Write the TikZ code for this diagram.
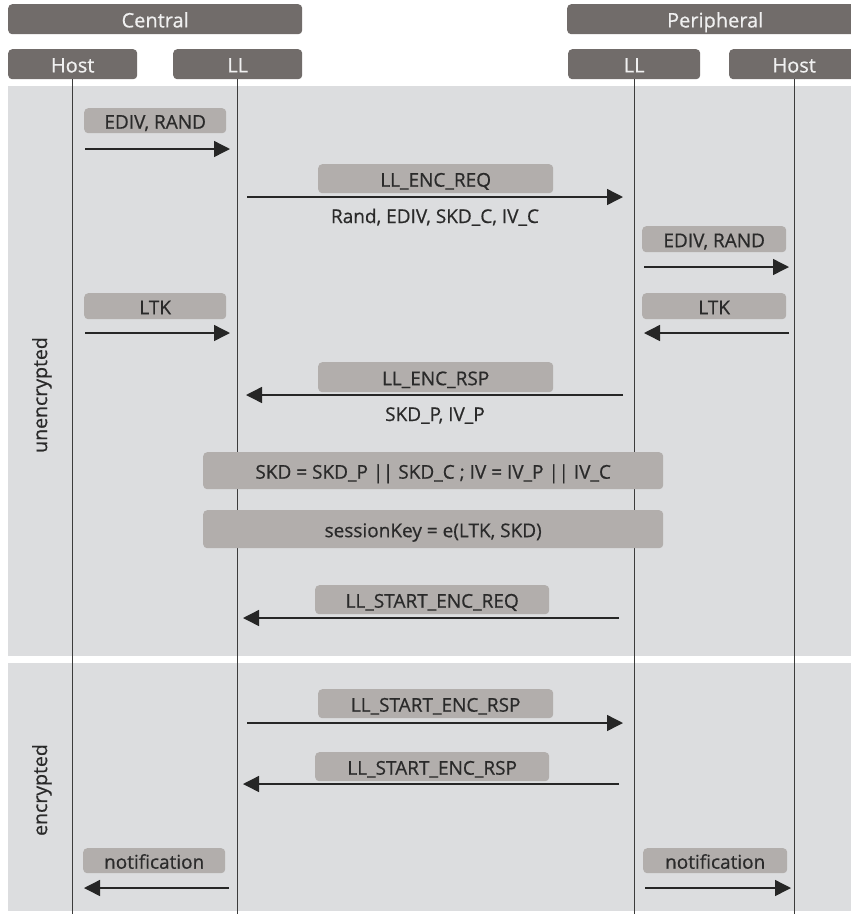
\documentclass[tikz,border=0pt]{standalone}
\usepackage{fontspec}
\setmainfont{Open Sans}
\newfontfamily\lblfont{Open Sans}[FakeBold=0.6]
\usetikzlibrary{arrows.meta}
\definecolor{hdr}{HTML}{716C6A}
\definecolor{lbl}{HTML}{B2AEAC}
\definecolor{bgc}{HTML}{DCDDDF}
\definecolor{life}{HTML}{3C3C3C}
\definecolor{txt}{HTML}{2A2A2A}
\newcommand{\dbar}{|\kern-0.5pt|}
\begin{document}
\begin{tikzpicture}[x=1pt,y=-1pt,
  hdrbox/.style={fill=hdr, rounded corners=4pt, text=white!94!black, font=\lblfont\fontsize{20}{22}\selectfont, inner sep=0pt, anchor=north west, minimum height=30pt, text height=16.4pt, text depth=0pt},
  lblbox/.style={fill=lbl, rounded corners=4pt, text=txt, font=\lblfont\fontsize{19}{21}\selectfont, inner sep=0pt, anchor=north west, text height=16pt, text depth=0pt},
  plain/.style={text=txt, font=\lblfont\fontsize{19}{21}\selectfont, inner sep=0pt, anchor=base},
  lifeline/.style={draw=life, line width=1.2pt},
  msg/.style={draw=black!85, line width=1.4pt, -{Triangle[length=16pt,width=16pt]}},
  sidelbl/.style={text=txt, font=\lblfont\fontsize{19.5}{21}\selectfont, rotate=90, inner sep=0pt}
]
\useasboundingbox (0,0) rectangle (851,914);
\fill[white] (0,0) rectangle (851,914);
% background bands
\fill[bgc] (8,86) rectangle (851,656);
\fill[bgc] (8,663) rectangle (851,911);

% headers
\node[hdrbox, minimum width=294pt] (central) at (8,4) {Central};
\node[hdrbox, minimum width=296pt] (periph) at (567,4) {Peripheral};
\node[hdrbox, minimum width=129pt] (hostC) at (8,49) {Host};
\node[hdrbox, minimum width=129pt] (llC) at (173,49) {LL};
\node[hdrbox, minimum width=132pt] (llP) at (568,49) {LL};
\node[hdrbox, minimum width=130pt] (hostP) at (729,49) {Host};

% lifeline ends
\coordinate (hostCe) at (hostC.south |- 0,914);
\coordinate (llCe) at (llC.south |- 0,914);
\coordinate (llPe) at (llP.south |- 0,914);
\coordinate (hostPe) at (hostP.south |- 0,914);
\draw[lifeline] (hostC.south) -- (hostCe);
\draw[lifeline] (llC.south) -- (llCe);
\draw[lifeline] (llP.south) -- (llPe);
\draw[lifeline] (hostP.south) -- (hostPe);

% side labels
\node[sidelbl] (unenc) at (42,395) {unencrypted};
\node[sidelbl] (enc) at (42,790) {encrypted};

% message coordinates
\coordinate (a1s) at (85,149);  \coordinate (a1e) at (230,149);
\coordinate (a2s) at (247,197); \coordinate (a2e) at (623,197);
\coordinate (a3s) at (644,267); \coordinate (a3e) at (789,267);
\coordinate (a4s) at (85,333);  \coordinate (a4e) at (230,333);
\coordinate (a5s) at (789,333); \coordinate (a5e) at (644,333);
\coordinate (a6s) at (623,395); \coordinate (a6e) at (246,395);
\coordinate (a7s) at (619,618); \coordinate (a7e) at (243,618);
\coordinate (a8s) at (247,723); \coordinate (a8e) at (623,723);
\coordinate (a9s) at (619,784); \coordinate (a9e) at (243,784);
\coordinate (a10s) at (229,888); \coordinate (a10e) at (84,888);
\coordinate (a11s) at (645,888); \coordinate (a11e) at (791,888);

% labels
\node[lblbox, minimum width=142pt, minimum height=25pt] (m1) at (84,108) {EDIV, RAND};
\node[lblbox, minimum width=235pt, minimum height=29pt] (m2) at (318,164) {LL\_ENC\_REQ};
\node[plain] (m2b) at (435,223) {Rand, EDIV, SKD\_C, IV\_C};
\node[lblbox, minimum width=144pt, minimum height=26pt] (m3) at (642,226) {EDIV, RAND};
\node[lblbox, minimum width=142pt, minimum height=26pt] (m4) at (84,293) {LTK};
\node[lblbox, minimum width=144pt, minimum height=26pt] (m5) at (642,293) {LTK};
\node[lblbox, minimum width=235pt, minimum height=30pt] (m6) at (318,362) {LL\_ENC\_RSP};
\node[plain] (m6b) at (435,421) {SKD\_P, IV\_P};
\node[lblbox, minimum width=460pt, minimum height=37pt] (calc1) at (203,452) {SKD = SKD\_P \dbar{} SKD\_C ; IV = IV\_P \dbar{} IV\_C};
\node[lblbox, minimum width=460pt, minimum height=38pt] (calc2) at (203,510) {sessionKey = e(LTK, SKD)};
\node[lblbox, minimum width=234pt, minimum height=29pt] (m7) at (315,585) {LL\_START\_ENC\_REQ};
\node[lblbox, minimum width=235pt, minimum height=29pt] (m8) at (318,689) {LL\_START\_ENC\_RSP};
\node[lblbox, minimum width=234pt, minimum height=29pt] (m9) at (315,752) {LL\_START\_ENC\_RSP};
\node[lblbox, minimum width=142pt, minimum height=25pt] (m10) at (83,848) {notification};
\node[lblbox, minimum width=144pt, minimum height=25pt] (m11) at (643,848) {notification};

% arrows
\draw[msg] (a1s) -- (a1e);
\draw[msg] (a2s) -- (a2e);
\draw[msg] (a3s) -- (a3e);
\draw[msg] (a4s) -- (a4e);
\draw[msg] (a5s) -- (a5e);
\draw[msg] (a6s) -- (a6e);
\draw[msg] (a7s) -- (a7e);
\draw[msg] (a8s) -- (a8e);
\draw[msg] (a9s) -- (a9e);
\draw[msg] (a10s) -- (a10e);
\draw[msg] (a11s) -- (a11e);
\end{tikzpicture}
\end{document}
